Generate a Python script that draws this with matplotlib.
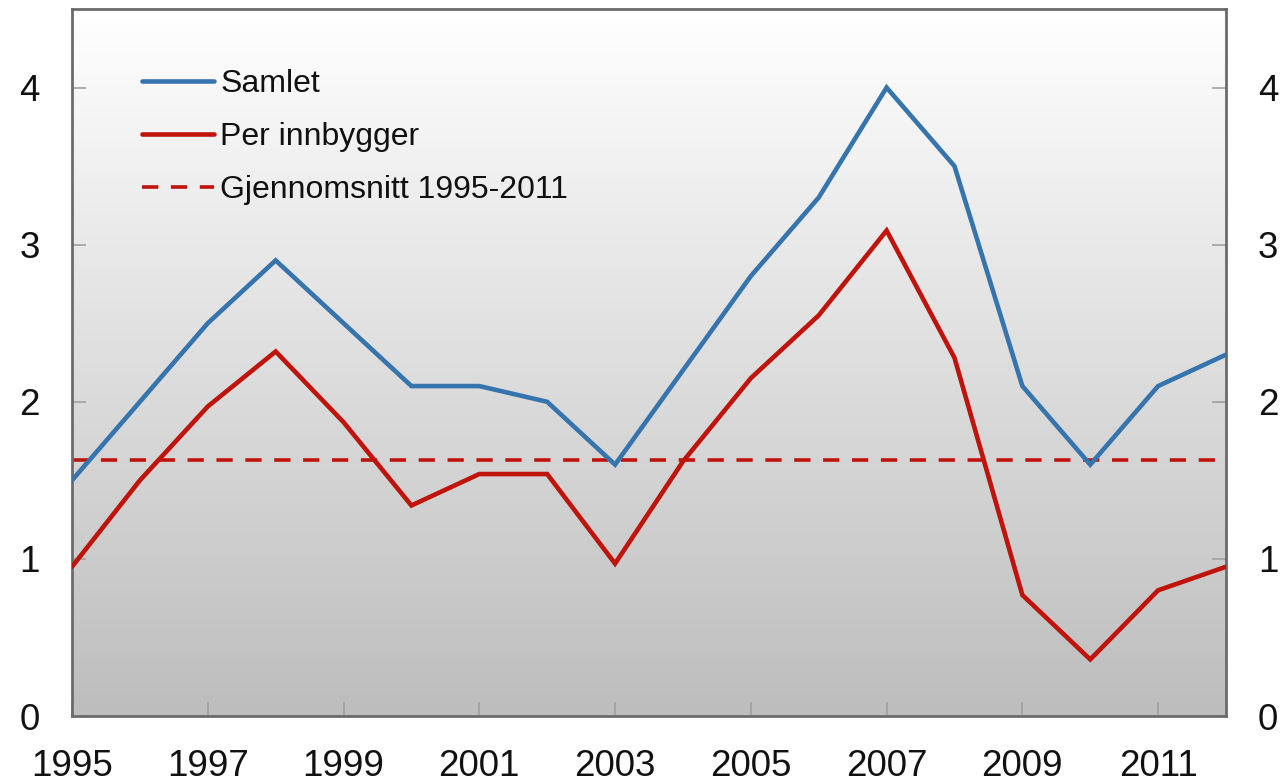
import matplotlib
matplotlib.use("Agg")
import matplotlib.pyplot as plt
import numpy as np
from matplotlib.colors import LinearSegmentedColormap

years = [1995, 1996, 1997, 1998, 1999, 2000, 2001, 2002, 2003, 2004,
         2005, 2006, 2007, 2008, 2009, 2010, 2011, 2012]
samlet = [1.5, 2.0, 2.5, 2.9, 2.5, 2.1, 2.1, 2.0, 1.6, 2.2,
          2.8, 3.3, 4.0, 3.5, 2.1, 1.6, 2.1, 2.3]
per_innbygger = [0.95, 1.5, 1.97, 2.32, 1.87, 1.34, 1.54, 1.54, 0.97, 1.62,
                 2.15, 2.55, 3.09, 2.28, 0.77, 0.36, 0.80, 0.95]
gjennomsnitt = 1.63
xtick_years = [1995, 1997, 1999, 2001, 2003, 2005, 2007, 2009, 2011]
yticks = [0, 1, 2, 3, 4]
labels = ["Samlet", "Per innbygger", "Gjennomsnitt 1995-2011"]

plt.rcParams['font.family'] = ['Liberation Sans', 'DejaVu Sans']

fig = plt.figure(figsize=(12.82, 7.84), dpi=100)
ax = fig.add_axes([72/1282, 1-716/784, (1226-72)/1282, (716-9)/784])

# gradient background
grad = np.linspace(1.0, 0.0, 256).reshape(-1, 1)
cmap = LinearSegmentedColormap.from_list("g", ["#bdbdbd", "#ffffff"])
ax.imshow(grad, cmap=cmap, aspect='auto', extent=[0, 1, 0, 1],
          transform=ax.transAxes, zorder=0, origin='upper',
          vmin=0, vmax=1)

blue = "#3674ad"
red = "#bf130b"
ax.plot(years, samlet, color=blue, lw=3.3, label=labels[0], zorder=3,
        solid_joinstyle='miter', solid_capstyle='round')
ax.plot(years, per_innbygger, color=red, lw=3.3, label=labels[1], zorder=3,
        solid_joinstyle='miter', solid_capstyle='round')
ax.plot([years[0], years[-1]], [gjennomsnitt, gjennomsnitt], color=red,
        lw=2.6, ls=(0, (4.5, 3.5)), label=labels[2], zorder=2)

ax.set_xlim(1995, 2012)
ax.set_ylim(0, 4.5)
ax.set_xticks(xtick_years)
ax.set_xticklabels([str(y) for y in xtick_years])
ax.set_yticks(yticks)
ax.set_yticklabels([str(v) for v in yticks])

for s in ax.spines.values():
    s.set_color("#6b6b6b")
    s.set_linewidth(2.0)

ax.tick_params(axis='both', direction='in', length=10, width=1.2,
               color="#a0a0a0", labelsize=26.5, labelcolor="#111111")
ax.tick_params(axis='y', right=True, labelright=True, pad=23)
ax.tick_params(axis='x', pad=24)

leg = ax.legend(loc='upper left', bbox_to_anchor=(0.0494, 0.9335),
                frameon=False, fontsize=23, handlelength=2.26,
                handletextpad=0.2, labelspacing=0.72, borderaxespad=0)
for t in leg.get_texts():
    t.set_color("#111111")

fig.savefig("out.png", dpi=100)
